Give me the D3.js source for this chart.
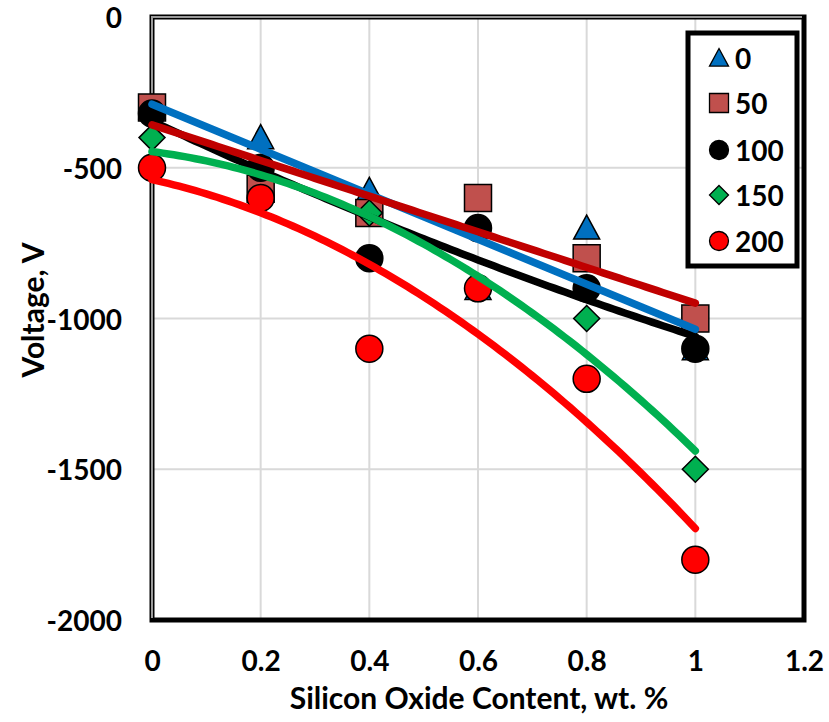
<!DOCTYPE html>
<html>
<head>
<meta charset="utf-8">
<script src="https://cdn.jsdelivr.net/npm/d3@7"></script>
<style>
  html, body { margin: 0; padding: 0; background: #fff; }
  svg { display: block; }
  text { font-family: Lato, "Open Sans", sans-serif; font-weight: 700; fill: #000; }
</style>
</head>
<body>
<svg id="chart" width="829" height="722"></svg>
<script>
// Silicon oxide content (wt. %) for each measurement
const xValues = [0, 0.2, 0.4, 0.6, 0.8, 1];

// Series labels (legend) and their measured voltages, V
const seriesLabels = ["0", "50", "100", "150", "200"];
const volts0   = [-300, -400, -575, -900, -700, -1100];
const volts50  = [-300, -570, -650, -600, -800, -1000];
const volts100 = [-320, -500, -800, -700, -900, -1100];
const volts150 = [-400, -600, -650, -900, -1000, -1500];
const volts200 = [-500, -600, -1100, -900, -1200, -1800];

// Trend line polynomial order per series (1 = linear, 2 = quadratic)
const trendOrders = [1, 1, 2, 2, 2];

// Axis ticks
const xTicks = [0, 0.2, 0.4, 0.6, 0.8, 1, 1.2];
const yTicks = [0, -500, -1000, -1500, -2000];

const seriesValues = [volts0, volts50, volts100, volts150, volts200];
const markerShapes = ["triangle", "square", "circle", "diamond", "circle"];
const markerFills = ["#0070C0", "#C0504D", "#000000", "#00B050", "#FF0000"];
const lineColors = ["#0070C0", "#C00000", "#000000", "#00B050", "#FF0000"];

const svg = d3.select("#chart");
const plot = { left: 152, top: 17, right: 804, bottom: 620 };

const x = d3.scaleLinear().domain([0, 1.2]).range([plot.left, plot.right]);
const y = d3.scaleLinear().domain([-2000, 0]).range([plot.bottom, plot.top]);

// Gridlines
const grid = svg.append("g");
grid.selectAll("line.v").data(xTicks.slice(1, -1)).join("line")
  .attr("x1", d => x(d)).attr("x2", d => x(d))
  .attr("y1", plot.top).attr("y2", plot.bottom)
  .attr("stroke", "#d9d9d9").attr("stroke-width", 2);
grid.selectAll("line.h").data(yTicks.slice(1, -1)).join("line")
  .attr("x1", plot.left).attr("x2", plot.right)
  .attr("y1", d => y(d)).attr("y2", d => y(d))
  .attr("stroke", "#d9d9d9").attr("stroke-width", 2);

// Plot frame: heavy black box, left/top edges with a grey core
svg.append("rect")
  .attr("x", plot.left).attr("y", plot.top)
  .attr("width", plot.right - plot.left).attr("height", plot.bottom - plot.top)
  .attr("fill", "none").attr("stroke", "#000").attr("stroke-width", 5);
svg.append("path")
  .attr("d", `M${plot.left},${plot.bottom - 2}V${plot.top}H${plot.right - 2}`)
  .attr("fill", "none").attr("stroke", "#9a9a9a").attr("stroke-width", 2);

// Axis tick labels via d3 axes (no tick lines)
const xAxis = d3.axisBottom(x).tickValues(xTicks).tickSize(0).tickPadding(0)
  .tickFormat(d => d3.format("~g")(d));
const gx = svg.append("g").attr("transform", `translate(0,${plot.bottom + 41})`).call(xAxis);
gx.select(".domain").remove();
gx.selectAll("text").attr("font-size", 28).attr("font-family", "Lato").attr("font-weight", 700)
  .attr("dy", "0.35em").attr("y", 0);

const yAxis = d3.axisLeft(y).tickValues(yTicks).tickSize(0).tickPadding(0)
  .tickFormat(d => String(d));
const gy = svg.append("g").attr("transform", `translate(${plot.left - 30},0)`).call(yAxis);
gy.select(".domain").remove();
gy.selectAll("text").attr("font-size", 28).attr("font-family", "Lato").attr("font-weight", 700)
  .attr("x", 0).attr("dy", "0.38em");

// Axis titles
svg.append("text")
  .attr("x", (plot.left + plot.right) / 2 + 1).attr("y", 697)
  .attr("text-anchor", "middle").attr("dominant-baseline", "central")
  .attr("font-size", 30).text("Silicon Oxide Content, wt. %");
svg.append("text")
  .attr("transform", "translate(32,310) rotate(-90)")
  .attr("text-anchor", "middle").attr("dominant-baseline", "central")
  .attr("font-size", 30).text("Voltage, V");

// Marker symbol paths
function markerPath(shape, s) {
  const h = s / 2;
  if (shape === "triangle") return `M0,${-h}L${h},${h * 0.85}L${-h},${h * 0.85}Z`;
  if (shape === "square") return `M${-h},${-h}H${h}V${h}H${-h}Z`;
  if (shape === "diamond") return `M0,${-h}L${h},0L0,${h}L${-h},0Z`;
  return `M${-h},0A${h},${h} 0 1,0 ${h},0A${h},${h} 0 1,0 ${-h},0Z`;
}

// Least-squares polynomial fit
function polyFit(xs, ys, order) {
  const n = order + 1;
  const A = Array.from({ length: n }, () => new Array(n + 1).fill(0));
  xs.forEach((xi, k) => {
    for (let r = 0; r < n; r++) {
      for (let c = 0; c < n; c++) A[r][c] += Math.pow(xi, r + c);
      A[r][n] += ys[k] * Math.pow(xi, r);
    }
  });
  for (let i = 0; i < n; i++) {
    let p = i;
    for (let r = i + 1; r < n; r++) if (Math.abs(A[r][i]) > Math.abs(A[p][i])) p = r;
    [A[i], A[p]] = [A[p], A[i]];
    for (let r = 0; r < n; r++) {
      if (r === i) continue;
      const f = A[r][i] / A[i][i];
      for (let c = i; c <= n; c++) A[r][c] -= f * A[i][c];
    }
  }
  return A.map((row, i) => row[n] / row[i]);
}

// Data markers
const markerSizes = [26, 27, 27, 26, 27];
seriesValues.forEach((vals, si) => {
  svg.append("g").selectAll("path").data(vals).join("path")
    .attr("transform", (d, i) => `translate(${x(xValues[i])},${y(d)})`)
    .attr("d", markerPath(markerShapes[si], markerSizes[si]))
    .attr("fill", markerFills[si]).attr("stroke", "#000").attr("stroke-width", 1.5);
});

// Trend lines drawn over the markers
const samples = d3.range(0, 1.0001, 0.01);
const line = d3.line().x(d => x(d[0])).y(d => y(d[1]));
[2, 0, 1, 3, 4].forEach(si => {
  const coef = polyFit(xValues, seriesValues[si], trendOrders[si]);
  const pts = samples.map(t => [t, coef.reduce((s, c, k) => s + c * Math.pow(t, k), 0)]);
  svg.append("path").attr("d", line(pts))
    .attr("fill", "none").attr("stroke", lineColors[si])
    .attr("stroke-width", 7.5).attr("stroke-linecap", "round");
});

// Legend
const legend = { left: 688, top: 33, right: 797, bottom: 266 };
svg.append("rect")
  .attr("x", legend.left).attr("y", legend.top)
  .attr("width", legend.right - legend.left).attr("height", legend.bottom - legend.top)
  .attr("fill", "#fff").attr("stroke", "#000").attr("stroke-width", 5);
const legendRows = [58, 103, 150, 195, 241];
seriesLabels.forEach((lab, si) => {
  svg.append("path")
    .attr("transform", `translate(719,${legendRows[si]})`)
    .attr("d", markerPath(markerShapes[si], 19))
    .attr("fill", markerFills[si]).attr("stroke", "#000").attr("stroke-width", 1.3);
  svg.append("text")
    .attr("x", 735).attr("y", legendRows[si])
    .attr("dominant-baseline", "central")
    .attr("font-size", 28).text(lab);
});
</script>
</body>
</html>
